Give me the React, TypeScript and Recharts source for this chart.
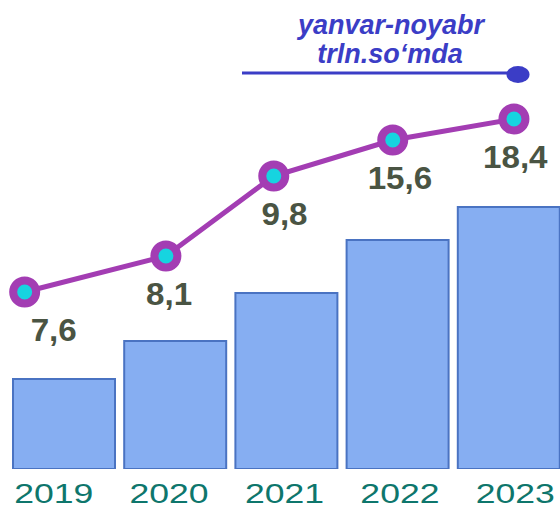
import React from 'react';
import { ComposedChart, Bar, Line, XAxis, YAxis, LabelList } from 'recharts';

// values (levels are in the chart's own unit, 0..20)
const years = ['2019', '2020', '2021', '2022', '2023'];
const barLevel = [4.5, 6.4, 8.8, 11.45, 13.1];
const lineLevel = [8.85, 10.65, 14.65, 16.45, 17.5];
const lineYear = [2018.65, 2019.92, 2020.89, 2021.96, 2023.05];
const valueLabels = ['7,6', '8,1', '9,8', '15,6', '18,4'];

const data = years.map((year, i) => ({
  year,
  bar: barLevel[i],
  line: lineLevel[i],
  lx: lineYear[i],
  label: valueLabels[i],
}));

const FONT = '"Liberation Sans", Arial, sans-serif';
const TICK_BASELINE = 503;

const YearTick = (props: any) => {
  const { x, payload } = props;
  return (
    <text
      transform={`translate(${x},${TICK_BASELINE}) scale(1.27,1)`}
      textAnchor="middle"
      fontSize={28}
      fontFamily={FONT}
      fill="#0E766C"
    >
      {payload.value}
    </text>
  );
};

const ValueLabel = (props: any) => {
  const { x, y, value } = props;
  return (
    <text
      transform={`translate(${x},${Number(y) + 49}) scale(1.07,1)`}
      textAnchor="middle"
      fontSize={31}
      fontWeight={700}
      fontFamily={FONT}
      fill="#4A5443"
    >
      {value}
    </text>
  );
};

const App: React.FC = () => {
  return (
    <div style={{ position: 'absolute', left: 0, top: 0, width: 560, height: 506, overflow: 'hidden', background: '#fff' }}>
      <div style={{ position: 'absolute', left: -10, top: 0 }}>
        <ComposedChart width={590} height={506} data={data} margin={{ top: 69, right: 0, bottom: 0, left: 0 }}>
          <XAxis xAxisId="bars" dataKey="year" hide padding={{ left: 18, right: 16 }} />
          <XAxis
            xAxisId="num"
            dataKey="lx"
            type="number"
            domain={[2018.5, 2023.5]}
            allowDataOverflow
            hide
            padding={{ left: 18, right: 16 }}
          />
          <XAxis
            xAxisId="ticks"
            dataKey="year"
            height={37}
            axisLine={false}
            tickLine={false}
            tickSize={0}
            tickMargin={0}
            interval={0}
            tick={<YearTick />}
            padding={{ left: 6, right: 7 }}
          />
          <YAxis hide domain={[0, 20]} allowDataOverflow />
          <Bar
            xAxisId="bars"
            dataKey="bar"
            barSize={102}
            fill="#86AEF2"
            stroke="#4A73C2"
            strokeWidth={2}
            isAnimationActive={false}
          />
          <Line
            xAxisId="num"
            dataKey="line"
            stroke="#A33DB3"
            strokeWidth={5}
            dot={{ r: 11.5, fill: '#16D4E0', stroke: '#A33DB3', strokeWidth: 8 }}
            activeDot={false}
            isAnimationActive={false}
          />
          <Line
            xAxisId="ticks"
            dataKey="line"
            stroke="none"
            dot={false}
            activeDot={false}
            isAnimationActive={false}
          >
            <LabelList dataKey="label" content={<ValueLabel />} />
          </Line>
        </ComposedChart>
      </div>
      <svg width={560} height={506} style={{ position: 'absolute', left: 0, top: 0, pointerEvents: 'none' }}>
        <text x={391} y={34} textAnchor="middle" fontSize={27} fontWeight={700} fontStyle="italic" fontFamily={FONT} fill="#3B3DC6">
          yanvar-noyabr
        </text>
        <text x={390} y={63} textAnchor="middle" fontSize={27} fontWeight={700} fontStyle="italic" fontFamily={FONT} fill="#3B3DC6">
          trln.so‘mda
        </text>
        <line x1={242} y1={73} x2={510} y2={73} stroke="#3B3DC6" strokeWidth={3} />
        <ellipse cx={518} cy={74.5} rx={11.5} ry={8.5} fill="#3B3DC6" />
      </svg>
    </div>
  );
};

export default App;
